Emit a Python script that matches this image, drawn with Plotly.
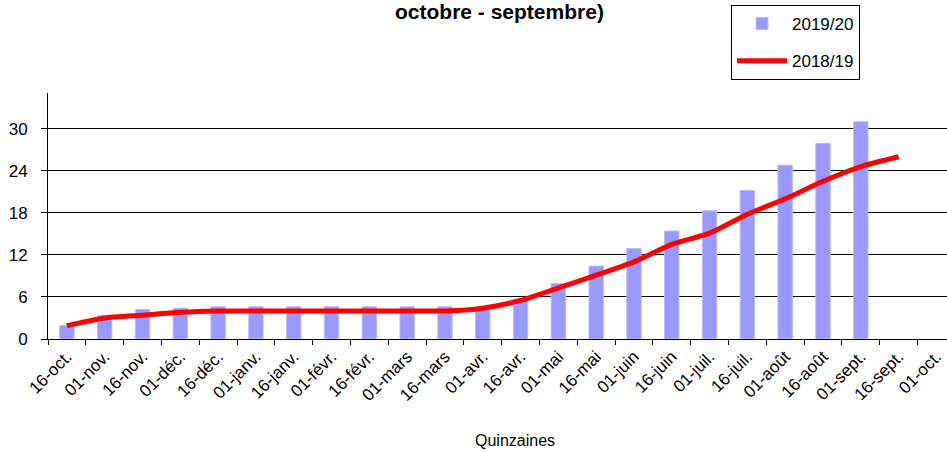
import plotly.graph_objects as go

# quinzaines (half-month periods), october to october
quinzaines = [
    "16-oct.", "01-nov.", "16-nov.", "01-déc.", "16-déc.", "01-janv.",
    "16-janv.", "01-févr.", "16-févr.", "01-mars", "16-mars", "01-avr.",
    "16-avr.", "01-mai", "16-mai", "01-juin", "16-juin", "01-juil.",
    "16-juil.", "01-août", "16-août", "01-sept.", "16-sept.", "01-oct.",
]

# 2019/20 season (bars), stops at 01-sept.
saison_2019_20 = [1.9, 3.3, 4.2, 4.4, 4.6, 4.6, 4.6, 4.6, 4.6, 4.6, 4.6, 4.6,
                  5.6, 7.9, 10.4, 12.9, 15.4, 18.3, 21.2, 24.8, 27.9, 31.0,
                  None, None]

# 2018/19 season (red line)
saison_2018_19 = [1.9, 3.0, 3.4, 3.8, 4.0, 4.0, 4.0, 4.0, 4.0, 4.0, 4.0, 4.4,
                  5.5, 7.3, 9.1, 11.0, 13.5, 15.1, 17.8, 20.0, 22.5, 24.6,
                  26.0, None]

y_ticks = [0, 6, 12, 18, 24, 30]

font_family = "Liberation Sans, Arial, sans-serif"

fig = go.Figure()

fig.add_trace(
    go.Bar(
        x=quinzaines,
        y=saison_2019_20,
        name="2019/20",
        marker=dict(color="#9999FF", line=dict(color="#B8B8FF", width=1)),
        width=0.38,
        legendgroup="a",
    )
)

fig.add_trace(
    go.Scatter(
        x=quinzaines,
        y=saison_2018_19,
        name="2018/19",
        mode="lines",
        line=dict(color="#FF0000", width=5, shape="spline", smoothing=0.6),
        legendgroup="b",
    )
)

fig.update_layout(
    width=947,
    height=452,
    margin=dict(l=48, r=0, t=93, b=113),
    plot_bgcolor="white",
    paper_bgcolor="white",
    font=dict(family=font_family, size=13, color="black"),
    showlegend=True,
    legend=dict(
        x=(731 - 48) / 899,
        y=(339 - 5) / 246,
        xanchor="left",
        yanchor="top",
        bordercolor="black",
        borderwidth=1,
        bgcolor="white",
        font=dict(size=17),
        traceorder="grouped",
        tracegroupgap=12,
        itemwidth=50,
    ),
)

fig.update_xaxes(
    type="category",
    range=[-0.5, 23.28],
    tickangle=-45,
    showline=True,
    linecolor="black",
    linewidth=1,
    ticks="outside",
    tickson="boundaries",
    ticklen=5,
    tickcolor="black",
    showgrid=False,
    tickfont=dict(size=17),
    automargin=False,
)

fig.update_yaxes(
    range=[0, 35.1],
    tickvals=y_ticks,
    showline=True,
    linecolor="black",
    linewidth=1,
    ticks="outside",
    ticklen=6,
    tickcolor="black",
    showgrid=True,
    gridcolor="black",
    gridwidth=1,
    zeroline=False,
    tickfont=dict(size=17),
    ticklabelstandoff=10,
    automargin=False,
)

fig.add_annotation(
    text="<b>octobre - septembre)</b>",
    xref="paper", yref="paper",
    x=(499 - 48) / 899, y=(339 - 12) / 246,
    showarrow=False,
    font=dict(size=21),
    xanchor="center", yanchor="middle",
)

fig.add_annotation(
    text="Quinzaines",
    xref="paper", yref="paper",
    x=(515 - 48) / 899, y=(339 - 440) / 246,
    showarrow=False,
    font=dict(size=16),
    xanchor="center", yanchor="middle",
)

# the page has no body margin so the chart sits at the window's corner
fig.write_html(
    "out.html",
    config={"displayModeBar": False},
    post_script="document.body.style.margin='0';",
)
